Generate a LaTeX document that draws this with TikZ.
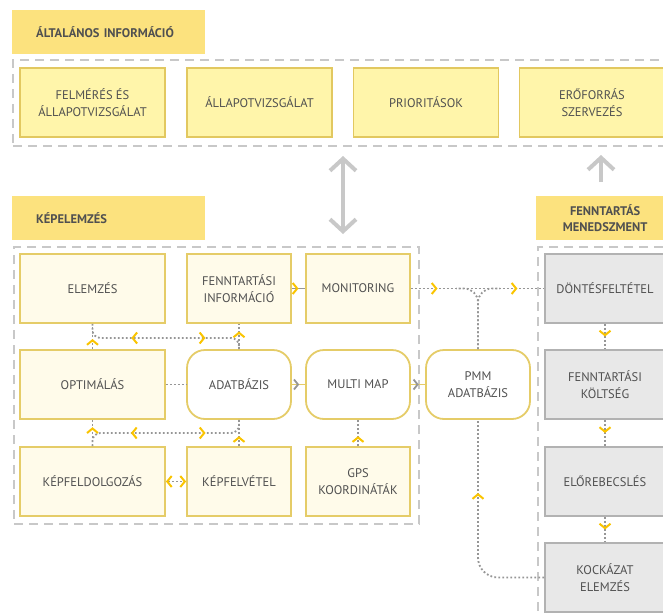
\documentclass[tikz,border=0pt]{standalone}
\usepackage{fontspec}
\setmainfont{PT Sans}
\usepackage{xcolor}
\usepackage{tikz}
\usetikzlibrary{arrows.meta,decorations.markings}

\definecolor{hdryellow}{RGB}{252,226,126}
\definecolor{infofill}{RGB}{255,245,170}
\definecolor{infoline}{RGB}{226,200,96}
\definecolor{imgfill}{RGB}{255,251,234}
\definecolor{imgline}{RGB}{229,204,104}
\definecolor{mgmtfill}{RGB}{232,232,232}
\definecolor{mgmtline}{RGB}{178,178,178}
\definecolor{framegray}{RGB}{200,200,200}
\definecolor{linkgray}{RGB}{150,150,150}
\definecolor{chevyellow}{RGB}{250,196,0}
\definecolor{textgray}{RGB}{80,80,80}

\tikzset{
  chev/.tip={Straight Barb[length=4.5pt,width=11pt,line width=2pt,color=chevyellow]},
  chevgray/.tip={Straight Barb[length=4pt,width=10pt,line width=1.8pt,color=linkgray]},
  bigtip/.tip={Straight Barb[length=12pt,width=26pt]}
}

\begin{document}
\begin{tikzpicture}[
  x=1pt,
  y=-1pt,
  font=\fontsize{12.5}{17}\selectfont,
  text=textgray,
  heading/.style={anchor=north west, fill=hdryellow, minimum height=44pt,
    inner xsep=24pt, align=left, font=\fontsize{12.5}{16}\selectfont\bfseries},
  panel/.style={anchor=north west, draw=framegray, line width=2.2pt,
    dash pattern=on 9pt off 6pt},
  infobox/.style={draw=infoline, fill=infofill, line width=1.8pt,
    minimum width=145pt, minimum height=69pt, align=center},
  imgbox/.style={draw=imgline, fill=imgfill, line width=1.8pt,
    minimum width=104pt, minimum height=69pt, align=center},
  dbbox/.style={imgbox, fill=white, rounded corners=18pt},
  mgmtbox/.style={draw=mgmtline, fill=mgmtfill, line width=1.8pt,
    minimum width=120pt, minimum height=69pt, align=center},
  link/.style={draw=linkgray, line width=1.8pt, dash pattern=on 1.8pt off 2.2pt},
  feed/.style={line width=1.6pt},
  bigarrow/.style={draw=framegray, line width=4pt},
  chevat/.style={postaction={decorate, decoration={markings,
    mark=at position #1 with {\arrow{chev}}}}},
  chevback/.style={postaction={decorate, decoration={markings,
    mark=at position #1 with {\arrowreversed{chev}}}}},
  grayat/.style={postaction={decorate, decoration={markings,
    mark=at position #1 with {\arrow{chevgray}}}}}
]
\useasboundingbox (0,0) rectangle (663,615);
\clip (0,0) rectangle (663,615);

% General information row.
\node[heading, text width=145pt] (hdrinfo) at (12,10) {ÁLTALÁNOS INFORMÁCIÓ};
\node[panel, minimum width=700pt, minimum height=86pt] (frameinfo) at (12,59) {};
\node[infobox] (felmeres) at (92.5,102.5) {FELMÉRÉS ÉS\\ÁLLAPOTVIZSGÁLAT};
\node[infobox] (allapot) at (259.5,102.5) {ÁLLAPOTVIZSGÁLAT};
\node[infobox] (prior) at (426,102.5) {PRIORITÁSOK};
\node[infobox] (eroforras) at (592,102.5) {ERŐFORRÁS\\SZERVEZÉS};

% Image analysis block.
\node[heading, text width=145pt] (hdrimg) at (12,196) {KÉPELEMZÉS};
\node[panel, minimum width=405pt, minimum height=277pt] (frameimg) at (13,246) {};
\node[infobox, draw=imgline, fill=imgfill] (elemzes) at (92.5,288.5) {ELEMZÉS};
\node[imgbox] (finfo) at (239,288.5) {FENNTARTÁSI\\INFORMÁCIÓ};
\node[imgbox] (monitor) at (358,288.5) {MONITORING};
\node[infobox, draw=imgline, fill=imgfill] (optim) at (92.5,384.5) {OPTIMÁLÁS};
\node[dbbox] (adatb) at (239,384.5) {ADATBÁZIS};
\node[dbbox] (multimap) at (358,384.5) {MULTI MAP};
\node[infobox, draw=imgline, fill=imgfill] (kfeld) at (92.5,481.5) {KÉPFELDOLGOZÁS};
\node[imgbox] (kfelv) at (239,481.5) {KÉPFELVÉTEL};
\node[imgbox] (gps) at (358,481.5) {GPS\\KOORDINÁTÁK};
\node[dbbox] (pmm) at (478,384.5) {PMM\\ADATBÁZIS};

% Maintenance management column.
\node[heading, text width=126pt, inner xsep=6pt, align=center] (hdrmgmt) at (536,196)
  {FENNTARTÁS\\MENEDSZMENT};
\node[panel, minimum width=200pt, minimum height=400pt] (framemgmt) at (537,246) {};
\node[mgmtbox] (donte) at (605,288.5) {DÖNTÉSFELTÉTEL};
\node[mgmtbox] (koltseg) at (605,384.5) {FENNTARTÁSI\\KÖLTSÉG};
\node[mgmtbox] (elore) at (605,481.5) {ELŐREBECSLÉS};
\node[mgmtbox] (kockazat) at (605,577.5) {KOCKÁZAT\\ELEMZÉS};

% Links between the blocks.
\coordinate (syncA) at (343,156);
\coordinate (syncB) at (343,234);
\draw[bigarrow, bigtip-bigtip] (syncA) -- (syncB);
\coordinate (costA) at (601,182);
\coordinate (costB) at (601,155);
\draw[bigarrow, -bigtip] (costA) -- (costB);

% Links inside the image analysis block.
\coordinate (busA) at (0,338);
\coordinate (busB) at (0,433);
\draw[link, rounded corners=8pt, chevback=0.3, chevat=0.75]
  (elemzes.south) -- (elemzes.south |- busA) -- (adatb.north |- busA) -- (adatb.north);
\draw[link, rounded corners=8pt, chevback=0.29, chevat=0.74]
  (kfeld.north) -- (kfeld.north |- busB) -- (adatb.south |- busB) -- (adatb.south);
\draw[link, chevat=0.4] (optim.north) -- (elemzes.south);
\draw[link, chevat=0.7] (adatb.north) -- (finfo.south);
\draw[link, chevat=0.72] (kfeld.north) -- (optim.south);
\draw[link, chevat=0.38] (kfelv.north) -- (adatb.south);
\draw[link, chevat=0.38] (gps.north) -- (multimap.south);
\draw[link] (optim.east) -- (adatb.west);
\draw[link, chev-chev] (kfeld.east) -- (kfelv.west);
\draw[feed, draw=linkgray, chevat=0.5] (finfo.east) -- (monitor.west);
\draw[feed, draw=imgline, grayat=0.55] (adatb.east) -- (multimap.west);
\draw[feed, draw=imgline, grayat=0.55] (multimap.east) -- (pmm.west);

% Links to the maintenance management column.
\draw[link, chevat=0.2, chevat=0.8] (monitor.east) -- (donte.west);
\draw[link, rounded corners=14pt] (pmm.north) -- (pmm.north |- monitor.east) -- ++(-22,0);
\draw[link, rounded corners=14pt] (pmm.north) -- (pmm.north |- monitor.east) -- ++(22,0);
\draw[link, rounded corners=20pt, chevat=0.66]
  (kockazat.west) -- (pmm.south |- kockazat.west) -- (pmm.south);
\draw[link, chevat=0.5] (donte.south) -- (koltseg.north);
\draw[link, chevat=0.5] (koltseg.south) -- (elore.north);
\draw[link, chevat=0.5] (elore.south) -- (kockazat.north);

\end{tikzpicture}
\end{document}
